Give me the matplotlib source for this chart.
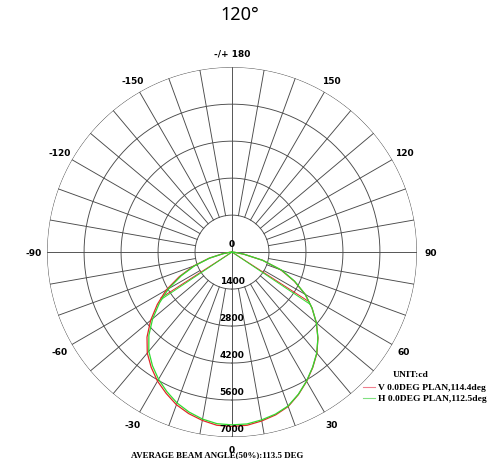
import numpy as np
import matplotlib
matplotlib.use('Agg')
import matplotlib.pyplot as plt
from matplotlib.lines import Line2D

############################
# data (cd, every 5 deg from -90 to 90)
############################

angles = np.arange(-90, 91, 5)

v_plane = [0, 80, 350, 900, 1550, 2200, 2880, 3450, 4020, 4550, 4990, 5330, 5640,
           5900, 6150, 6330, 6470, 6580, 6600, 6580, 6490, 6380, 6220, 5950, 5650,
           5330, 5000, 4600, 4170, 3700, 3200, 2600, 1970, 1200, 450, 100, 0]

h_plane = [0, 70, 330, 870, 1500, 2120, 2780, 3350, 3920, 4450, 4900, 5250, 5560,
           5830, 6080, 6270, 6420, 6520, 6540, 6530, 6450, 6350, 6200, 5940, 5640,
           5320, 4990, 4600, 4170, 3700, 3200, 2620, 2000, 1200, 450, 100, 0]

v_beam = 114.4
h_beam = 112.5
avg_beam = 113.5

ring_vals = [1400, 2800, 4200, 5600, 7000]
ring_labels = ['1400', '2800', '4200', '5600', '7000']
ang_ticks = [0, 30, 60, 90, 120, 150, 180, -30, -60, -90, -120, -150]
ang_labels = ['0', '30', '60', '90', '120', '150', '-/+ 180',
              '-30', '-60', '-90', '-120', '-150']

rmax = 7000.
gridcol = '#4a4a4a'
red = '#e02828'
green = '#30dc30'

fig = plt.figure(figsize=(5, 4.6), dpi=100)
ax = fig.add_axes([0.094, 0.0478, 0.74, 0.804], projection='polar')
ax.set_theta_zero_location('S')
ax.set_theta_direction(1)
ax.set_ylim(0, rmax)
ax.set_axis_off()

#### grid: rings and spokes (spokes start at the first ring, axes through centre)
tt = np.linspace(0, 2*np.pi, 400)
for r in ring_vals:
    ax.plot(tt, np.full_like(tt, r), color=gridcol, lw=0.65, zorder=1)

for a in range(0, 360, 10):
    r0 = 0. if a % 90 == 0 else ring_vals[0]
    ax.plot([np.radians(a)]*2, [r0, rmax], color=gridcol, lw=0.65, zorder=1)

#### curves
th = np.radians(angles)
ax.plot(th, v_plane, color=red, lw=0.9, zorder=3)
ax.plot(th, h_plane, color=green, lw=0.9, zorder=4)

#### beam angle lines from centre to the 50% points
for vals, beam, col, z in [(v_plane, v_beam, red, 3), (h_plane, h_beam, green, 4)]:
    for s in (-1, 1):
        a = s*beam/2.
        r = np.interp(a, angles, vals)
        ax.plot([0, np.radians(a)], [0, r], color=col, lw=0.7, zorder=z)

#### labels
lab = dict(fontsize=6.5, fontweight='bold', family='DejaVu Sans',
           ha='center', va='center', clip_on=False, zorder=5)
for r, s in zip(ring_vals, ring_labels):
    ax.text(0, r - 330, s, **lab)
ax.text(np.pi, 330, '0', **lab)

for a, s in zip(ang_ticks, ang_labels):
    rr = 7480 if a == 0 else 7520
    ax.text(np.radians(a), rr, s, **lab)

fig.text(0.48, 1 - 15/460., '120°', ha='center', va='center',
         fontsize=13, family='Noto Sans')

ser = dict(fontsize=6.8, fontweight='bold', family='Liberation Serif', va='center')
fig.text(393/500., 1 - 375/460., 'UNIT:cd', **ser)
fig.text(378/500., 1 - 388/460., 'V 0.0DEG PLAN,%.1fdeg' % v_beam, **ser)
fig.text(378/500., 1 - 399/460., 'H 0.0DEG PLAN,%.1fdeg' % h_beam, **ser)
fig.add_artist(Line2D([363/500., 375/500.], [1 - 388/460.]*2, color='#f08090',
                      lw=0.8, transform=fig.transFigure))
fig.add_artist(Line2D([363/500., 375/500.], [1 - 399/460.]*2, color='#80e080',
                      lw=0.8, transform=fig.transFigure))

ser['fontsize'] = 6.4
fig.text(131/500., 1 - 455/460., 'AVERAGE BEAM ANGLE(50%%):%.1f DEG' % avg_beam,
         **ser)

fig.savefig('out.png', dpi=100)
